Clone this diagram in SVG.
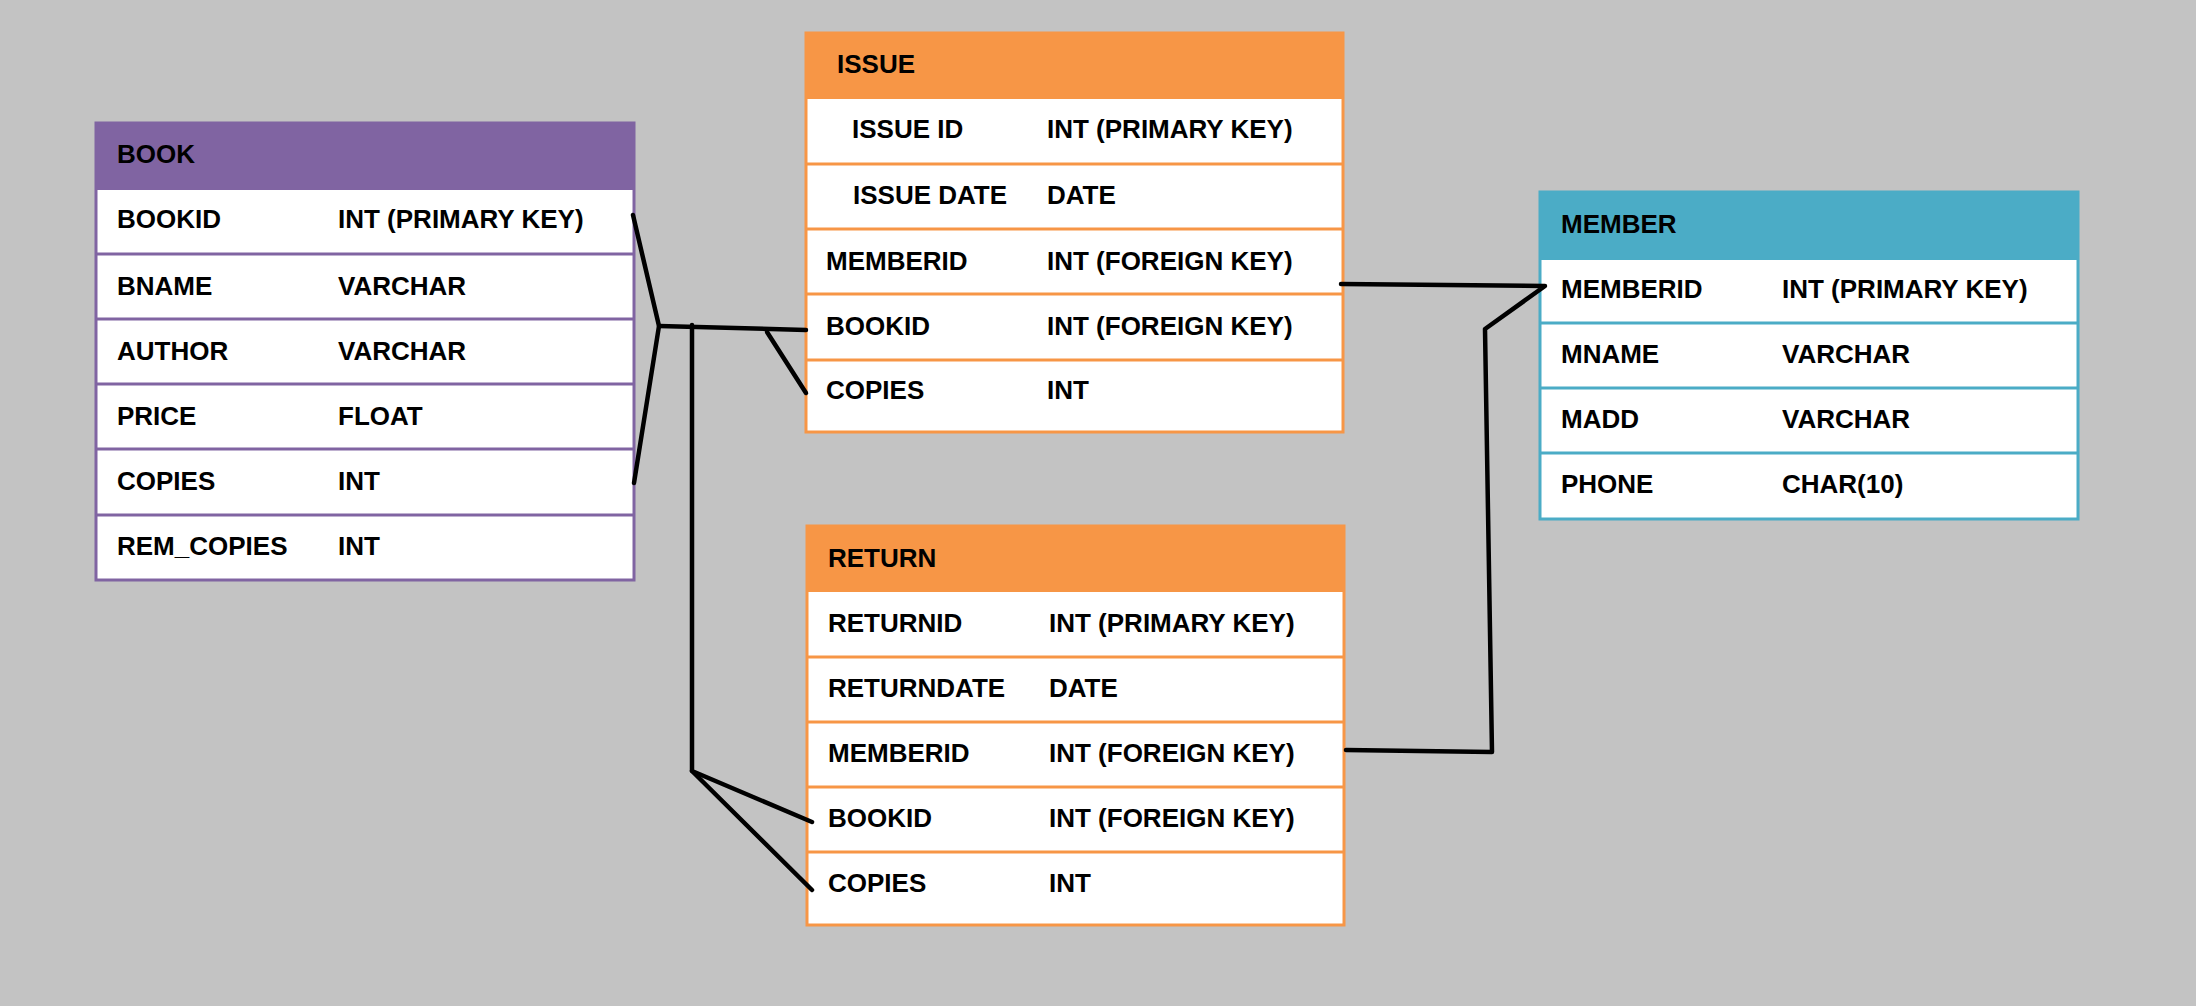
<svg xmlns="http://www.w3.org/2000/svg" width="2196" height="1006" viewBox="0 0 2196 1006">
<style>
text{font-family:"Liberation Sans",Arial,sans-serif;font-weight:bold;font-size:26px;fill:#000}
.body{fill:#fff;stroke-width:3}
.sep{stroke-width:3}
.p .body,.p .sep{stroke:#8064A2}.p .head{fill:#8064A2}
.o .body,.o .sep{stroke:#F79646}.o .head{fill:#F79646}
.b .body,.b .sep{stroke:#4BACC6}.b .head{fill:#4BACC6}
.conn{fill:none;stroke:#000;stroke-width:4.5;stroke-linecap:round;stroke-linejoin:round}
</style>
<rect width="2196" height="1006" fill="#c3c3c3"/>
<g id="book" class="p">
<rect class="body" x="96" y="123" width="538" height="457"/>
<rect class="head" x="95" y="122" width="540" height="68"/>
<line class="sep" x1="96" y1="254" x2="634" y2="254"/><line class="sep" x1="96" y1="319" x2="634" y2="319"/><line class="sep" x1="96" y1="384" x2="634" y2="384"/><line class="sep" x1="96" y1="449" x2="634" y2="449"/><line class="sep" x1="96" y1="515" x2="634" y2="515"/>
<text x="117" y="163">BOOK</text>
<text x="117" y="228">BOOKID</text><text x="338" y="228">INT (PRIMARY KEY)</text>
<text x="117" y="295">BNAME</text><text x="338" y="295">VARCHAR</text>
<text x="117" y="360">AUTHOR</text><text x="338" y="360">VARCHAR</text>
<text x="117" y="425">PRICE</text><text x="338" y="425">FLOAT</text>
<text x="117" y="490">COPIES</text><text x="338" y="490">INT</text>
<text x="117" y="555">REM_COPIES</text><text x="338" y="555">INT</text>
</g>
<g id="issue" class="o">
<rect class="body" x="806" y="33" width="537" height="399"/>
<rect class="head" x="805" y="32" width="539" height="67"/>
<line class="sep" x1="806" y1="164" x2="1343" y2="164"/><line class="sep" x1="806" y1="229" x2="1343" y2="229"/><line class="sep" x1="806" y1="294" x2="1343" y2="294"/><line class="sep" x1="806" y1="360" x2="1343" y2="360"/>
<text x="837" y="73">ISSUE</text>
<text x="852" y="138">ISSUE ID</text><text x="1047" y="138">INT (PRIMARY KEY)</text>
<text x="853" y="204">ISSUE DATE</text><text x="1047" y="204">DATE</text>
<text x="826" y="270">MEMBERID</text><text x="1047" y="270">INT (FOREIGN KEY)</text>
<text x="826" y="335">BOOKID</text><text x="1047" y="335">INT (FOREIGN KEY)</text>
<text x="826" y="399">COPIES</text><text x="1047" y="399">INT</text>
</g>
<g id="return" class="o">
<rect class="body" x="807" y="526" width="537" height="399"/>
<rect class="head" x="806" y="525" width="539" height="67"/>
<line class="sep" x1="807" y1="657" x2="1344" y2="657"/><line class="sep" x1="807" y1="722" x2="1344" y2="722"/><line class="sep" x1="807" y1="787" x2="1344" y2="787"/><line class="sep" x1="807" y1="852" x2="1344" y2="852"/>
<text x="828" y="567">RETURN</text>
<text x="828" y="632">RETURNID</text><text x="1049" y="632">INT (PRIMARY KEY)</text>
<text x="828" y="697">RETURNDATE</text><text x="1049" y="697">DATE</text>
<text x="828" y="762">MEMBERID</text><text x="1049" y="762">INT (FOREIGN KEY)</text>
<text x="828" y="827">BOOKID</text><text x="1049" y="827">INT (FOREIGN KEY)</text>
<text x="828" y="892">COPIES</text><text x="1049" y="892">INT</text>
</g>
<g id="member" class="b">
<rect class="body" x="1540" y="192" width="538" height="327"/>
<rect class="head" x="1539" y="191" width="540" height="69"/>
<line class="sep" x1="1540" y1="323" x2="2078" y2="323"/><line class="sep" x1="1540" y1="388" x2="2078" y2="388"/><line class="sep" x1="1540" y1="453" x2="2078" y2="453"/>
<text x="1561" y="233">MEMBER</text>
<text x="1561" y="298">MEMBERID</text><text x="1782" y="298">INT (PRIMARY KEY)</text>
<text x="1561" y="363">MNAME</text><text x="1782" y="363">VARCHAR</text>
<text x="1561" y="428">MADD</text><text x="1782" y="428">VARCHAR</text>
<text x="1561" y="493">PHONE</text><text x="1782" y="493">CHAR(10)</text>
</g>
<g id="connectors">
<polyline class="conn" points="633,215 659,326 634,483"/>
<polyline class="conn" points="659,326 806,330"/>
<polyline class="conn" points="767,332 806,393"/>
<polyline class="conn" points="692,325 692,771 812,822"/>
<polyline class="conn" points="692,771 812,890"/>
<polyline class="conn" points="1341,284 1545,286 1485,329 1492,752 1346,750"/>
</g>
</svg>
